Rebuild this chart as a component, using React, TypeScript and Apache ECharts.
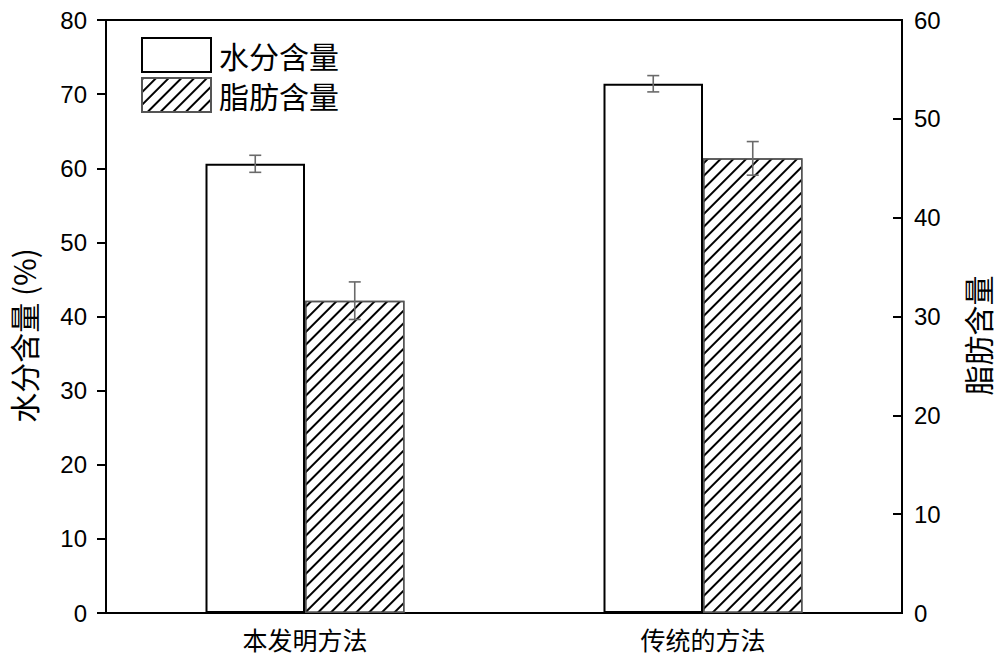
import { useEffect, useRef } from 'react';
import * as echarts from 'echarts';

const categories = ['本发明方法', '传统的方法'];
const waterValues = [60.6, 71.4];
const waterErrors = [1.15, 1.1];
const fatValues = [31.6, 46.0];
const fatErrors = [1.9, 1.7];
const leftTicks = { min: 0, max: 80, interval: 10 };
const rightTicks = { min: 0, max: 60, interval: 10 };

const FONT = '"Liberation Sans", "Noto Sans CJK SC", sans-serif';
const CJK = '"Noto Sans CJK SC", "Liberation Sans", sans-serif';

// error bar for one series; shift = offset of bar centre as fraction of band width
const errorBar = (shift: number) => (params: any, api: any) => {
    const x = api.value(0);
    const lo = api.coord([x, api.value(1)]);
    const hi = api.coord([x, api.value(2)]);
    const band = api.size([1, 0])[0];
    const cx = lo[0] + band * shift;
    const cap = 6;
    const style = { stroke: '#6a6a6a', lineWidth: 1.6 };
    return {
        type: 'group',
        children: [
            { type: 'line', shape: { x1: cx, y1: hi[1], x2: cx, y2: lo[1] }, style },
            { type: 'line', shape: { x1: cx - cap, y1: hi[1], x2: cx + cap, y2: hi[1] }, style },
            { type: 'line', shape: { x1: cx - cap, y1: lo[1], x2: cx + cap, y2: lo[1] }, style },
        ],
    };
};

export default function App() {
    const chartRef = useRef<HTMLDivElement>(null);

    useEffect(() => {
        const myChart = echarts.init(chartRef.current, null, { renderer: 'svg' });

        const hatch = {
            symbol: 'rect',
            symbolSize: 1,
            dashArrayX: [1, 0],
            dashArrayY: [1.5, 7],
            rotation: -Math.PI / 4,
            color: '#000',
            backgroundColor: '#fff',
        };

        myChart.setOption({
            animation: false,
            backgroundColor: '#fff',
            grid: {
                left: 103,
                right: 91,
                top: 20,
                bottom: 52,
                show: true,
                borderColor: '#000',
                borderWidth: 2,
                backgroundColor: 'transparent',
            },
            legend: {
                orient: 'vertical',
                left: 141,
                top: 37,
                padding: 0,
                icon: 'rect',
                itemWidth: 69,
                itemHeight: 34,
                itemGap: 4,
                textStyle: { fontFamily: CJK, fontSize: 30, color: '#000', padding: [0, 0, 0, 3] },
                data: ['水分含量', '脂肪含量'],
            },
            xAxis: {
                type: 'category',
                data: categories,
                axisLine: { lineStyle: { color: '#000', width: 2 } },
                axisTick: { alignWithLabel: true, length: 8, lineStyle: { color: '#000', width: 2 } },
                axisLabel: { fontFamily: CJK, fontSize: 25, color: '#000', margin: 13 },
                splitLine: { show: false },
            },
            yAxis: [
                {
                    type: 'value',
                    ...leftTicks,
                    name: '水分含量 (%)',
                    nameLocation: 'middle',
                    nameGap: 68,
                    nameRotate: 90,
                    nameTextStyle: { fontFamily: CJK, fontSize: 30, color: '#000', padding: [0, 38, 0, 0] },
                    axisLine: { show: true, lineStyle: { color: '#000', width: 2 } },
                    axisTick: { show: true, length: 9, lineStyle: { color: '#000', width: 2 } },
                    axisLabel: { fontFamily: FONT, fontSize: 24, color: '#000', margin: 19 },
                    splitLine: { show: false },
                },
                {
                    type: 'value',
                    ...rightTicks,
                    name: '脂肪含量',
                    nameLocation: 'middle',
                    nameGap: 60,
                    nameRotate: 90,
                    nameTextStyle: { fontFamily: CJK, fontSize: 30, color: '#000', padding: [0, 38, 0, 0] },
                    axisLine: { show: true, lineStyle: { color: '#000', width: 2 } },
                    axisTick: { show: true, inside: true, length: 9, lineStyle: { color: '#000', width: 2 } },
                    axisLabel: { fontFamily: FONT, fontSize: 24, color: '#000', margin: 12 },
                    splitLine: { show: false },
                },
            ],
            series: [
                {
                    name: '水分含量',
                    type: 'bar',
                    yAxisIndex: 0,
                    data: waterValues,
                    barWidth: '25%',
                    barGap: '0%',
                    itemStyle: { color: '#fff', borderColor: '#000', borderWidth: 2 },
                },
                {
                    name: '脂肪含量',
                    type: 'bar',
                    yAxisIndex: 1,
                    data: fatValues,
                    barWidth: '25%',
                    barGap: '0%',
                    itemStyle: { color: '#fff', borderColor: '#555', borderWidth: 1.5, decal: hatch },
                },
                {
                    type: 'custom',
                    yAxisIndex: 0,
                    renderItem: errorBar(-0.125),
                    data: waterValues.map((v, i) => [i, v - waterErrors[i], v + waterErrors[i]]),
                    z: 10,
                },
                {
                    type: 'custom',
                    yAxisIndex: 1,
                    renderItem: errorBar(0.125),
                    data: fatValues.map((v, i) => [i, v - fatErrors[i], v + fatErrors[i]]),
                    z: 10,
                },
            ],
        });

        return () => {
            myChart.dispose();
        };
    }, []);

    return (
        <div
            ref={chartRef}
            style={{ position: 'absolute', left: 0, top: 0, width: '1000px', height: '665px' }}
        />
    );
}
